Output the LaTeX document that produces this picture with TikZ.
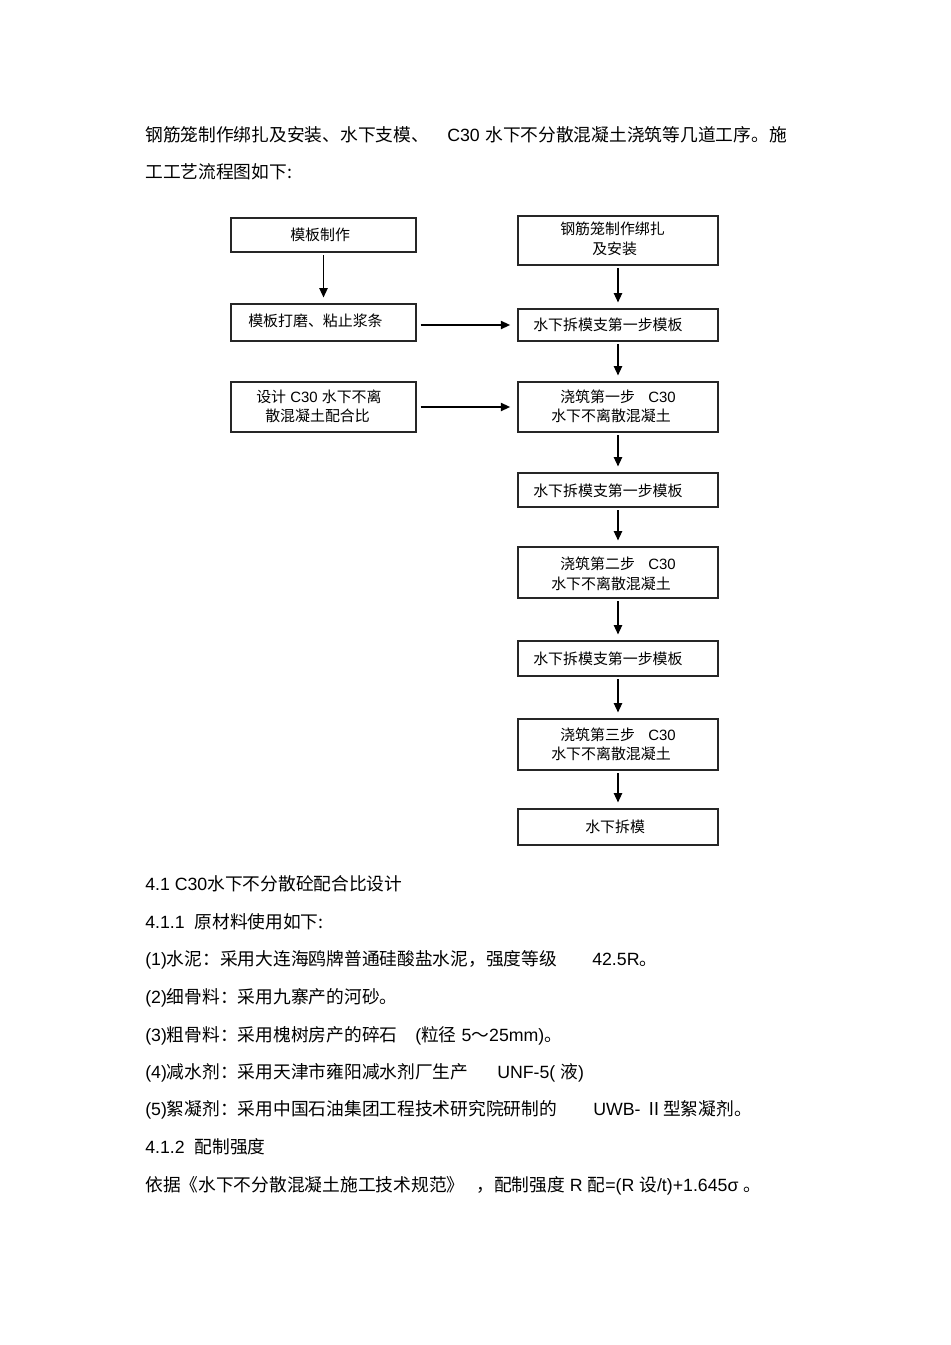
\documentclass[tikz,border=0pt]{standalone}
\usepackage{fontspec}
\setmainfont{Liberation Sans}
\newfontfamily\cjk{Noto Sans CJK SC}
\usetikzlibrary{arrows.meta,fit}
\newcommand{\bodyfont}{\fontsize{13.3pt}{15pt}\selectfont}
\newcommand{\boxfont}{\fontsize{11.2pt}{13pt}\selectfont}
\begin{document}
\begin{tikzpicture}[x=0.75pt,y=-0.75pt,
  box/.style={draw=black!85, line width=0.8pt, inner sep=0pt},
  arr/.style={line width=1.1pt, -{Triangle[length=7pt,width=6.2pt]}, shorten >=4.5pt, shorten <=2.2pt},
  harr/.style={line width=1.1pt, -{Triangle[length=7pt,width=6.2pt]}, shorten >=5.5pt, shorten <=3pt},
  bt/.style={font=\boxfont, anchor=base west, inner sep=0pt},
  tt/.style={font=\bodyfont, anchor=base west, inner sep=0pt}]
\fill[white] (0,0) rectangle (950,1345);
\useasboundingbox (0,0) rectangle (950,1345);

% intro text
\node[tt] (p1a) at (145,141) {{\cjk 钢筋笼制作绑扎及安装、水下支模、}};
\node[tt] (p1b) at (447,141) {C30};
\node[tt] (p1c) at (485,141) {{\cjk 水下不分散混凝土浇筑等几道工序。施}};
\node[tt] (p2) at (145,178) {{\cjk 工工艺流程图如下:}};

% boxes left
\node[box, fit={(231,218) (416,252)}] (L1) {};
\node[box, fit={(231,304) (416,341)}] (L2) {};
\node[box, fit={(231,382) (416,432)}] (L3) {};
% boxes right
\node[box, fit={(518,216) (718,265)}] (R1) {};
\node[box, fit={(518,309) (718,341)}] (R2) {};
\node[box, fit={(518,382) (718,432)}] (R3) {};
\node[box, fit={(518,473) (718,507)}] (R4) {};
\node[box, fit={(518,547) (718,598)}] (R5) {};
\node[box, fit={(518,641) (718,676)}] (R6) {};
\node[box, fit={(518,719) (718,770)}] (R7) {};
\node[box, fit={(518,809) (718,845)}] (R8) {};

% box texts
\node[bt] (tL1) at (290,240.5) {{\cjk 模板制作}};
\node[bt] (tL2) at (248,326.5) {{\cjk 模板打磨、粘止浆条}};
\node[bt] (tL3a) at (256,402.5) {{\cjk 设计} C30 {\cjk 水下不离}};
\node[bt] (tL3b) at (265,421.5) {{\cjk 散混凝土配合比}};
\node[bt] (tR1a) at (560,234.5) {{\cjk 钢筋笼制作绑扎}};
\node[bt] (tR1b) at (592,254.5) {{\cjk 及安装}};
\node[bt] (tR2) at (533,330.5) {{\cjk 水下拆模支第一步模板}};
\node[bt] (tR3a) at (560,402.5) {{\cjk 浇筑第一步}};
\node[bt] (tR3c) at (648,402.5) {C30};
\node[bt] (tR3b) at (551,421.5) {{\cjk 水下不离散混凝土}};
\node[bt] (tR4) at (533,496.5) {{\cjk 水下拆模支第一步模板}};
\node[bt] (tR5a) at (560,569.5) {{\cjk 浇筑第二步}};
\node[bt] (tR5c) at (648,569.5) {C30};
\node[bt] (tR5b) at (551,589.5) {{\cjk 水下不离散混凝土}};
\node[bt] (tR6) at (533,664.5) {{\cjk 水下拆模支第一步模板}};
\node[bt] (tR7a) at (560,740.5) {{\cjk 浇筑第三步}};
\node[bt] (tR7c) at (648,740.5) {C30};
\node[bt] (tR7b) at (551,759.5) {{\cjk 水下不离散混凝土}};
\node[bt] (tR8) at (585,832.5) {{\cjk 水下拆模}};

% connectors
\draw[arr] (L1) -- (L2);
\draw[arr] (R1) -- (R2);
\draw[arr] (R2) -- (R3);
\draw[arr] (R3) -- (R4);
\draw[arr] (R4) -- (R5);
\draw[arr] (R5) -- (R6);
\draw[arr] (R6) -- (R7);
\draw[arr] (R7) -- (R8);
\draw[harr] (L2.east |- R2) -- (R2.west);
\draw[harr] (L3.east) -- (R3.west);

% lower text
\node[tt] (s41) at (145,890) {4.1 C30{\cjk 水下不分散砼配合比设计}};
\node[tt] (s411) at (145,928) {4.1.1\ \ {\cjk 原材料使用如下:}};
\node[tt] (i1a) at (145,965) {(1){\cjk 水泥：采用大连海鸥牌普通硅酸盐水泥，强度等级}};
\node[tt] (i1b) at (592,965) {42.5R{\cjk 。}};
\node[tt] (i2) at (145,1003) {(2){\cjk 细骨料：采用九寨产的河砂。}};
\node[tt] (i3a) at (145,1041) {(3){\cjk 粗骨料：采用槐树房产的碎石}};
\node[tt] (i3b) at (415,1041) {({\cjk 粒径} 5{\cjk ～}25mm){\cjk 。}};
\node[tt] (i4a) at (145,1078) {(4){\cjk 减水剂：采用天津市雍阳减水剂厂生产}};
\node[tt] (i4b) at (497,1078) {UNF-5( {\cjk 液})};
\node[tt] (i5a) at (145,1115) {(5){\cjk 絮凝剂：采用中国石油集团工程技术研究院研制的}};
\node[tt] (i5b) at (593,1115) {UWB- {\cjk Ⅱ型絮凝剂。}};
\node[tt] (s412) at (145,1153) {4.1.2\ \ {\cjk 配制强度}};
\node[tt] (l1a) at (145,1191) {{\cjk 依据《水下不分散混凝土施工技术规范》}};
\node[tt] (l1b) at (476,1191) {{\cjk ，配制强度} R {\cjk 配}=(R {\cjk 设}/t)+1.645σ {\cjk 。}};
\end{tikzpicture}
\end{document}
